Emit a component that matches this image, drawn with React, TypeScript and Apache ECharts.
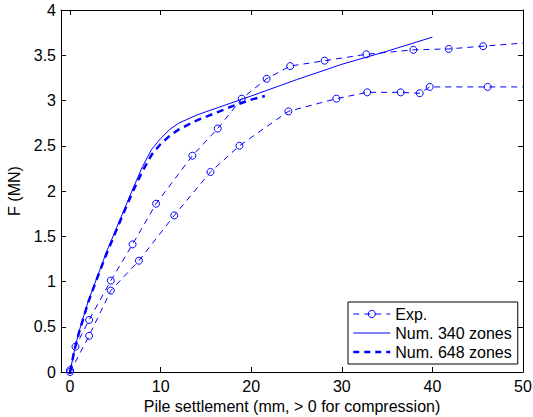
import React, { useEffect, useRef } from "react";
import * as echarts from "echarts";

const expUpper: [number, number][] = [
  [0, 0.02], [0.6, 0.28], [2.1, 0.575], [4.5, 1.01], [6.9, 1.41], [9.5, 1.86],
  [13.5, 2.39], [16.3, 2.69], [18.95, 3.02], [21.7, 3.24], [24.3, 3.38],
  [28.1, 3.44], [32.7, 3.51], [37.9, 3.56], [41.8, 3.57], [45.6, 3.6], [52, 3.65],
];
const expLower: [number, number][] = [
  [0, 0], [2.1, 0.4], [4.5, 0.9], [7.6, 1.23], [11.5, 1.73], [15.5, 2.21],
  [18.7, 2.5], [24.1, 2.88], [29.4, 3.02], [32.8, 3.09], [36.5, 3.09],
  [38.6, 3.08], [39.7, 3.15], [46.1, 3.15], [52, 3.15],
];
const num340: [number, number][] = [
  [0, 0], [0.5, 0.25], [1, 0.45], [2, 0.78], [3, 1.05], [4, 1.32], [5, 1.56],
  [6, 1.8], [7, 2.04], [8, 2.27], [9, 2.46], [10, 2.58], [11, 2.68], [12, 2.75],
  [14, 2.84], [16, 2.91], [18, 2.98], [20, 3.05], [25, 3.23], [30, 3.4],
  [35, 3.545], [40, 3.7],
];
const num648: [number, number][] = [
  [0, 0], [0.5, 0.25], [1, 0.44], [2, 0.77], [3, 1.04], [4, 1.3], [5, 1.54],
  [6, 1.78], [7, 2.01], [8, 2.22], [9, 2.4], [10, 2.52], [11, 2.61], [12, 2.68],
  [14, 2.78], [16, 2.86], [18, 2.94], [20, 3.01], [21.5, 3.05],
];
const xTicks = [0, 10, 20, 30, 40, 50];
const legendNames = ["Exp.", "Num. 340 zones", "Num. 648 zones"];

const FONT = "'Liberation Sans', Arial, Helvetica, sans-serif";
const BLUE = "#0000ff";

export default function App() {
  const ref = useRef<HTMLDivElement>(null);
  useEffect(() => {
    if (!ref.current) return;
    const chart = echarts.init(ref.current, undefined, { renderer: "svg" });
    const axisLine = { show: true, onZero: false, lineStyle: { color: "#000", width: 1 } };
    const tick = { show: true, inside: true, length: 5, lineStyle: { color: "#000" } };
    const label = { color: "#000", fontSize: 16, fontFamily: FONT };
    const expStyle = {
      type: "line",
      name: legendNames[0],
      symbol: "circle",
      symbolSize: 7,
      clip: true,
      itemStyle: { color: "rgba(0,0,0,0)", borderColor: BLUE, borderWidth: 1 },
      lineStyle: { color: BLUE, width: 1, type: [6, 5] },
    };
    chart.setOption({
      animation: false,
      backgroundColor: "#fff",
      textStyle: { fontFamily: FONT },
      grid: { left: 61, right: 10, top: 10, bottom: 45, containLabel: false, outerBoundsMode: "none" },
      legend: {
        data: [
          {
            name: legendNames[0],
            itemStyle: { color: "rgba(0,0,0,0)", borderColor: BLUE, borderWidth: 1 },
            lineStyle: { color: BLUE, width: 1, type: [6, 5] },
          },
          {
            name: legendNames[1],
            itemStyle: { opacity: 0 },
            lineStyle: { color: BLUE, width: 1, type: "solid" },
          },
          {
            name: legendNames[2],
            itemStyle: { opacity: 0 },
            lineStyle: { color: BLUE, width: 2.5, type: [6, 5] },
          },
        ],
        orient: "vertical",
        left: 348,
        top: 302,
        padding: [4, 6, 4, 4],
        itemGap: 3,
        itemWidth: 37,
        itemHeight: 9,
        borderColor: "#000",
        borderWidth: 1,
        backgroundColor: "#fff",
        textStyle: { color: "#000", fontSize: 16, fontFamily: FONT },
      },
      xAxis: [
        {
          type: "value",
          min: -1,
          max: 50,
          name: "Pile settlement (mm, > 0 for compression)",
          nameLocation: "middle",
          nameGap: 17,
          nameTextStyle: { color: "#000", fontSize: 16, fontFamily: FONT },
          axisLine,
          axisTick: { ...tick, customValues: xTicks },
          axisLabel: { ...label, margin: 6, customValues: xTicks },
          splitLine: { show: false },
        },
        {
          type: "value",
          min: -1,
          max: 50,
          position: "top",
          axisLine,
          axisTick: { ...tick, customValues: xTicks },
          axisLabel: { show: false },
          splitLine: { show: false },
        },
      ],
      yAxis: [
        {
          type: "value",
          min: 0,
          max: 4,
          interval: 0.5,
          name: "F (MN)",
          nameLocation: "middle",
          nameGap: 29,
          nameRotate: 90,
          nameTextStyle: { color: "#000", fontSize: 16, fontFamily: FONT },
          axisLine,
          axisTick: tick,
          axisLabel: { ...label, margin: 5 },
          splitLine: { show: false },
        },
        {
          type: "value",
          min: 0,
          max: 4,
          interval: 0.5,
          position: "right",
          axisLine,
          axisTick: tick,
          axisLabel: { show: false },
          splitLine: { show: false },
        },
      ],
      series: [
        { ...expStyle, data: expUpper },
        { ...expStyle, data: expLower },
        {
          type: "line",
          name: legendNames[1],
          symbol: "none",
          data: num340,
          itemStyle: { color: BLUE },
          lineStyle: { color: BLUE, width: 1 },
        },
        {
          type: "line",
          name: legendNames[2],
          symbol: "none",
          data: num648,
          itemStyle: { color: BLUE },
          lineStyle: { color: BLUE, width: 2.5, type: [7, 5] },
        },
      ],
    });
    return () => chart.dispose();
  }, []);
  return (
    <div
      ref={ref}
      style={{ position: "absolute", left: 0, top: 0, width: 533, height: 417 }}
    />
  );
}
